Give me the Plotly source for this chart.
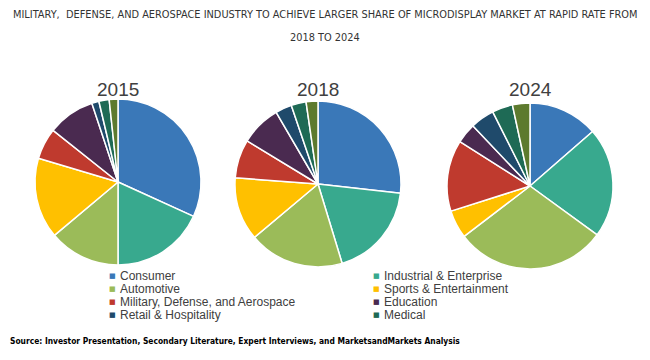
import plotly.graph_objects as go

categories = ["Consumer", "Industrial & Enterprise", "Automotive", "Sports & Entertainment",
              "Military, Defense, and Aerospace", "Education", "Retail & Hospitality", "Medical", "Others"]
colors = ["#3A78B8", "#38A98E", "#9BBB59", "#FFC000", "#BF3A2E", "#4A2A50", "#1F4A6B", "#1E6A55", "#5D7A2E"]

years = ["2015", "2018", "2024"]
share_2015 = [31.8, 18.2, 13.9, 15.7, 6.1, 9.2, 1.4, 2.0, 1.7]
share_2018 = [26.8, 18.5, 18.6, 12.3, 7.5, 7.9, 3.2, 2.9, 2.3]
share_2024 = [13.6, 21.4, 29.6, 5.5, 13.9, 3.9, 4.7, 4.0, 3.4]
shares = [share_2015, share_2018, share_2024]

legend_labels = categories[:8]

W, H = 650, 360
centers = [(118, 182), (318, 184), (530, 186)]
R = 83
COND = "DejaVu Sans Condensed, Liberation Sans Narrow, Arial Narrow"

fig = go.Figure()
for yr, vals, (cx, cy) in zip(years, shares, centers):
    fig.add_trace(go.Pie(
        labels=categories, values=vals, sort=False, direction="clockwise", rotation=0,
        marker=dict(colors=colors, line=dict(color="white", width=1.5)),
        textinfo="none", hoverinfo="label+percent", showlegend=False,
        domain=dict(x=[(cx - R) / W, (cx + R) / W], y=[(H - cy - R) / H, (H - cy + R) / H]),
    ))
    fig.add_annotation(x=cx / W, y=(H - 89) / H, xref="paper", yref="paper", text=yr,
                       showarrow=False, xanchor="center", yanchor="middle",
                       font=dict(family="Liberation Sans, Arial", size=19, color="#404040"))

# title
fig.add_annotation(x=0.5, y=(H - 15) / H, xref="paper", yref="paper",
                   text="MILITARY,  DEFENSE, AND AEROSPACE INDUSTRY TO ACHIEVE LARGER SHARE OF MICRODISPLAY MARKET AT RAPID RATE FROM",
                   showarrow=False, xanchor="center", yanchor="middle",
                   font=dict(family=COND, size=10.9, color="#333333"))
fig.add_annotation(x=0.5, y=(H - 38) / H, xref="paper", yref="paper", text="2018 TO 2024",
                   showarrow=False, xanchor="center", yanchor="middle",
                   font=dict(family=COND, size=10.9, color="#333333"))

# legend (custom, two columns)
col_x = [112, 376]
row_y = [276, 289, 302, 315]
for i, lab in enumerate(legend_labels):
    x0 = col_x[i % 2]
    y0 = row_y[i // 2]
    fig.add_annotation(x=x0 / W, y=(H - y0) / H, xref="paper", yref="paper", text="■",
                       showarrow=False, xanchor="center", yanchor="middle",
                       font=dict(family="DejaVu Sans", size=7, color=colors[i]))
    fig.add_annotation(x=(x0 + 6) / W, y=(H - y0) / H, xref="paper", yref="paper", text=lab,
                       showarrow=False, xanchor="left", yanchor="middle",
                       font=dict(family="Liberation Sans, Arial", size=12, color="#404040"))

# source
fig.add_annotation(x=8 / W, y=(H - 341) / H, xref="paper", yref="paper",
                   text="<b>Source: Investor Presentation, Secondary Literature, Expert Interviews, and MarketsandMarkets Analysis</b>",
                   showarrow=False, xanchor="left", yanchor="middle",
                   font=dict(family=COND, size=8.4, color="#000000"))

fig.update_layout(width=W, height=H, margin=dict(l=0, r=0, t=0, b=0),
                  paper_bgcolor="white", plot_bgcolor="white")
fig.write_html("out.html", config={"displayModeBar": False},
               post_script="document.body.style.margin='0';")
